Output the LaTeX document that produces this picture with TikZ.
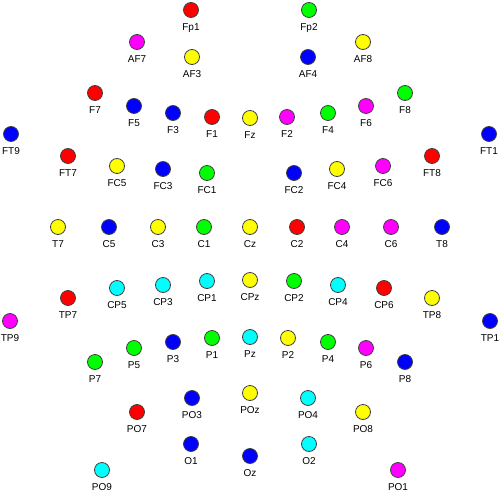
\documentclass[tikz,border=0pt]{standalone}
\usepackage{fontspec}
\setmainfont{Liberation Sans}
\usepackage{xcolor}
\usepackage{tikz}
\definecolor{ered}{RGB}{255,0,0}
\definecolor{egreen}{RGB}{0,255,0}
\definecolor{eblue}{RGB}{0,0,255}
\definecolor{eyellow}{RGB}{255,255,0}
\definecolor{emagenta}{RGB}{255,0,255}
\definecolor{ecyan}{RGB}{0,255,255}

\tikzset{
    elec/.style={circle, draw=black!75, line width=0.8pt, minimum size=15pt, inner sep=0pt,
        label={[lbl]below:#1}},
    lbl/.style={inner sep=0pt, label distance=5.3pt, font=\fontsize{10}{10}\selectfont}
}

\begin{document}
\begin{tikzpicture} [x=1pt,y=-1pt]
    \useasboundingbox (0,0) rectangle (500,500);
    % frontal
    \node[elec=Fp1,fill=ered] (Fp1) at (191,10) {};
    \node[elec=Fp2,fill=egreen] (Fp2) at (309,10) {};
    \node[elec=AF7,fill=emagenta] (AF7) at (137,42) {};
    \node[elec=AF3,fill=eyellow] (AF3) at (192,57) {};
    \node[elec=AF4,fill=eblue] (AF4) at (308,57) {};
    \node[elec=AF8,fill=eyellow] (AF8) at (363,42) {};
    \node[elec=F7,fill=ered] (F7) at (95,93) {};
    \node[elec=F5,fill=eblue] (F5) at (134,106) {};
    \node[elec=F3,fill=eblue] (F3) at (173,113) {};
    \node[elec=F1,fill=ered] (F1) at (212,117) {};
    \node[elec=Fz,fill=eyellow] (Fz) at (250,118) {};
    \node[elec=F2,fill=emagenta] (F2) at (287,117) {};
    \node[elec=F4,fill=egreen] (F4) at (328,113) {};
    \node[elec=F6,fill=emagenta] (F6) at (366,106) {};
    \node[elec=F8,fill=egreen] (F8) at (405,93) {};
    % fronto-central
    \node[elec=FT9,fill=eblue] (FT9) at (11,134) {};
    \node[elec=FT7,fill=ered] (FT7) at (68,156) {};
    \node[elec=FC5,fill=eyellow] (FC5) at (117,166) {};
    \node[elec=FC3,fill=eblue] (FC3) at (163,169) {};
    \node[elec=FC1,fill=egreen] (FC1) at (207,173) {};
    \node[elec=FC2,fill=eblue] (FC2) at (294,173) {};
    \node[elec=FC4,fill=eyellow] (FC4) at (337,169) {};
    \node[elec=FC6,fill=emagenta] (FC6) at (383,166) {};
    \node[elec=FT8,fill=ered] (FT8) at (432,156) {};
    \node[elec=FT1,fill=eblue] (FT10) at (489,134) {};
    % central
    \node[elec=T7,fill=eyellow] (T7) at (58,227) {};
    \node[elec=C5,fill=eblue] (C5) at (109,227) {};
    \node[elec=C3,fill=eyellow] (C3) at (158,227) {};
    \node[elec=C1,fill=egreen] (C1) at (204,227) {};
    \node[elec=Cz,fill=eyellow] (Cz) at (250,227) {};
    \node[elec=C2,fill=ered] (C2) at (297,227) {};
    \node[elec=C4,fill=emagenta] (C4) at (342,227) {};
    \node[elec=C6,fill=emagenta] (C6) at (391,227) {};
    \node[elec=T8,fill=eblue] (T8) at (442,227) {};
    % centro-parietal
    \node[elec=TP9,fill=emagenta] (TP9) at (10,321) {};
    \node[elec=TP7,fill=ered] (TP7) at (68,298) {};
    \node[elec=CP5,fill=ecyan] (CP5) at (117,288) {};
    \node[elec=CP3,fill=ecyan] (CP3) at (163,285) {};
    \node[elec=CP1,fill=ecyan] (CP1) at (207,281) {};
    \node[elec=CPz,fill=eyellow] (CPz) at (250,280) {};
    \node[elec=CP2,fill=egreen] (CP2) at (294,281) {};
    \node[elec=CP4,fill=ecyan] (CP4) at (338,285) {};
    \node[elec=CP6,fill=ered] (CP6) at (384,288) {};
    \node[elec=TP8,fill=eyellow] (TP8) at (432,298) {};
    \node[elec=TP1,fill=eblue] (TP10) at (490,321) {};
    % parietal
    \node[elec=P7,fill=egreen] (P7) at (95,362) {};
    \node[elec=P5,fill=egreen] (P5) at (134,348) {};
    \node[elec=P3,fill=eblue] (P3) at (173,342) {};
    \node[elec=P1,fill=egreen] (P1) at (212,338) {};
    \node[elec=Pz,fill=ecyan] (Pz) at (250,337) {};
    \node[elec=P2,fill=eyellow] (P2) at (288,338) {};
    \node[elec=P4,fill=egreen] (P4) at (328,342) {};
    \node[elec=P6,fill=emagenta] (P6) at (366,348) {};
    \node[elec=P8,fill=eblue] (P8) at (405,362) {};
    % parieto-occipital, occipital
    \node[elec=PO7,fill=ered] (PO7) at (137,412) {};
    \node[elec=PO3,fill=eblue] (PO3) at (192,398) {};
    \node[elec=POz,fill=eyellow] (POz) at (250,393) {};
    \node[elec=PO4,fill=ecyan] (PO4) at (308,398) {};
    \node[elec=PO8,fill=eyellow] (PO8) at (363,412) {};
    \node[elec=PO9,fill=ecyan] (PO9) at (102,470) {};
    \node[elec=O1,fill=eblue] (O1) at (191,444) {};
    \node[elec=Oz,fill=eblue] (Oz) at (250,456) {};
    \node[elec=O2,fill=ecyan] (O2) at (309,444) {};
    \node[elec=PO1,fill=emagenta] (PO10) at (398,470) {};
\end{tikzpicture}
\end{document}
